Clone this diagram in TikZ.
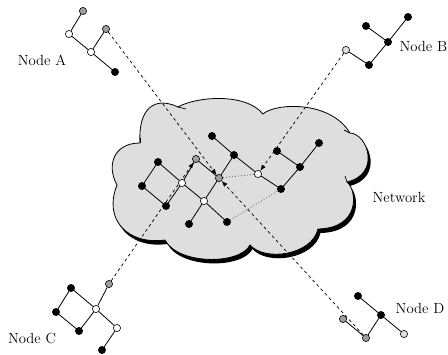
\documentclass[tikz,border=0pt]{standalone}
\usepackage{fontspec}
\usetikzlibrary{arrows.meta,backgrounds}
\definecolor{midgray}{gray}{0.62}
\definecolor{palegray}{gray}{0.88}
\definecolor{cloudfill}{gray}{0.87}
\newcommand{\cloudoutline}{%
  (140,143) .. controls (138,108) and (155,96) .. (178,107)
  .. controls (195,97) and (245,92) .. (263,114)
  .. controls (275,103) and (330,100) .. (350,133)
  .. controls (368,134) and (381,174) .. (347,182)
  .. controls (357,190) and (361,228) .. (318,229)
  .. controls (312,255) and (265,262) .. (250,245)
  .. controls (240,265) and (178,265) .. (165,240)
  .. controls (128,245) and (103,220) .. (117,185)
  .. controls (106,165) and (114,143) .. (140,143) -- cycle}
\begin{document}
\begin{tikzpicture}[x=1pt,y=-1pt,
  dot/.style={circle,draw=black,line width=0.6pt,inner sep=0pt,minimum size=7.2pt},
  dotb/.style={dot,fill=black},
  dotw/.style={dot,fill=white},
  dotg/.style={dot,fill=midgray},
  dotl/.style={dot,fill=palegray},
  link/.style={line width=0.8pt},
  tunnel/.style={line width=0.7pt,dash pattern=on 3pt off 3pt,
    -{Latex[length=6pt,width=4.5pt]}},
  hint/.style={line width=1pt,draw=gray,dash pattern=on 1pt off 2pt},
  lbl/.style={font=\fontsize{14.7}{17}\selectfont,inner sep=0pt}
]
\useasboundingbox (0,0) rectangle (448,355);

% Node A
\node[dotg] (a1) at (83,11) {};
\node[dotw] (a2) at (69,34) {};
\node[dotg] (a3) at (106,29) {};
\node[dotw] (a4) at (91,52) {};
\node[dotb] (a5) at (115,72) {};
\node[lbl] (labA) at (42,60) {Node A};

% Node B
\node[dotl] (b1) at (346,50) {};
\node[dotb] (b2) at (369,65) {};
\node[dotb] (b3) at (388,42) {};
\node[dotb] (b4) at (366,26) {};
\node[dotb] (b5) at (408,17) {};
\node[lbl,anchor=east] (labB) at (447.5,46) {Node B};

% Node C
\node[dotb] (c1) at (71,288) {};
\node[dotb] (c2) at (56,312) {};
\node[dotb] (c3) at (79,331) {};
\node[dotw] (c4) at (96,309) {};
\node[dotg] (c5) at (109,284) {};
\node[dotw] (c6) at (117,328) {};
\node[dotb] (c7) at (102,350) {};
\node[lbl] (labC) at (32,338) {Node C};

% Node D
\node[dotb] (d1) at (358,296) {};
\node[dotb] (d2) at (381,315) {};
\node[dotl] (d3) at (404,334) {};
\node[dotg] (d4) at (366,338) {};
\node[dotg] (d5) at (343,319) {};
\node[lbl] (labD) at (420,308) {Node D};

% Network
\node[dotb] (n1) at (158,162) {};
\node[dotb] (n2) at (142,186) {};
\node[dotb] (n3) at (166,206) {};
\node[dotw] (n4) at (182,183) {};
\node[dotg] (n5) at (196,159) {};
\node[dotg] (n6) at (219,178) {};
\node[dotw] (n7) at (204,201) {};
\node[dotb] (n8) at (189,224) {};
\node[dotb] (n9) at (227,222) {};
\node[dotb] (n10) at (234,155) {};
\node[dotb] (n11) at (212,136) {};
\node[dotw] (n12) at (258,174) {};
\node[dotb] (n13) at (281,189) {};
\node[dotb] (n14) at (300,167) {};
\node[dotb] (n15) at (277,151) {};
\node[dotb] (n16) at (319,143) {};
\node[lbl] (labN) at (399,197) {Network};

\begin{scope}[on background layer]
  % cloud with its drop shadow
  \fill[black,shift={(2.5,4)}] \cloudoutline;
  \filldraw[fill=cloudfill,draw=black,line width=0.8pt] \cloudoutline;
  % small creases at the cloud's notches
  \draw[line width=0.7pt] (178,107) -- (186,109);
  \draw[line width=0.7pt] (350,133) -- (344,130);
  \draw[line width=0.7pt] (347,182) -- (345,176);
  \draw[line width=0.7pt] (140,143) -- (140,138);

  % tunnels between the sites and the network
  \draw[tunnel] (a3) -- (n6);
  \draw[tunnel] (d4) -- (n6);
  \draw[tunnel] (c5) -- (n5);
  \draw[tunnel] (b1) -- (n12);

  % hidden paths
  \draw[hint] (n6) -- (n12);
  \draw[hint] (n9) -- (n13);

  % links
  \draw[link] (a1) -- (a2) -- (a4) -- (a3);
  \draw[link] (a4) -- (a5);
  \draw[link] (b1) -- (b2) -- (b3) -- (b4);
  \draw[link] (b3) -- (b5);
  \draw[link] (c1) -- (c2) -- (c3) -- (c4) -- (c1);
  \draw[link] (c4) -- (c5);
  \draw[link] (c4) -- (c6) -- (c7);
  \draw[link] (d1) -- (d2) -- (d3);
  \draw[link] (d2) -- (d4) -- (d5);
  \draw[link] (n1) -- (n2) -- (n3) -- (n4) -- (n1);
  \draw[link] (n4) -- (n5) -- (n6);
  \draw[link] (n4) -- (n7) -- (n6) -- (n10);
  \draw[link] (n7) -- (n8);
  \draw[link] (n7) -- (n9);
  \draw[link] (n11) -- (n10) -- (n12) -- (n13) -- (n14) -- (n15);
  \draw[link] (n14) -- (n16);
\end{scope}
\end{tikzpicture}
\end{document}
